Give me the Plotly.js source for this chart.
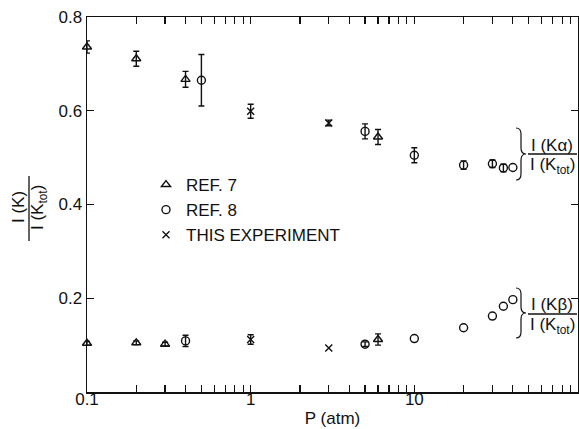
<!DOCTYPE html>
<html>
<head>
<meta charset="utf-8">
<script src="https://cdn.plot.ly/plotly-3.0.1.min.js"></script>
<style>html,body{margin:0;padding:0;background:#fff;}#chart{width:579px;height:429px;}</style>
</head>
<body>
<div id="chart"></div>
<script>
// ---- data ----
// REF. 7 (triangles)
var ref7KaP = [0.1, 0.2, 0.4, 6];
var ref7KaY = [0.736, 0.711, 0.667, 0.544];
var ref7KaE = [0.013, 0.016, 0.017, 0.016];
var ref7KbP = [0.1, 0.2, 0.3, 6];
var ref7KbY = [0.104, 0.105, 0.102, 0.112];
var ref7KbE = [0.004, 0.004, 0.004, 0.012];
// REF. 8 (circles)
var ref8KaP = [0.5, 5, 10, 20, 30, 35, 40];
var ref8KaY = [0.665, 0.556, 0.505, 0.484, 0.487, 0.478, 0.479];
var ref8KaE = [0.055, 0.016, 0.016, 0.009, 0.008, 0.008, null];
var ref8KbP = [0.4, 5, 10, 20, 30, 35, 40];
var ref8KbY = [0.109, 0.102, 0.114, 0.137, 0.162, 0.183, 0.197];
var ref8KbE = [0.012, 0.005, null, null, null, null, null];
// THIS EXPERIMENT (crosses)
var thisKaP = [1, 3];
var thisKaY = [0.599, 0.574];
var thisKaE = [0.015, 0.006];
var thisKbP = [1, 3];
var thisKbY = [0.112, 0.094];
var thisKbE = [0.010, null];

var legendNames = ['REF. 7', 'REF. 8', 'THIS EXPERIMENT'];
var xTickVals = [0.1,0.2,0.3,0.4,0.5,0.6,0.7,0.8,0.9,1,2,3,4,5,6,7,8,9,10,20,30,40,50,60,70,80,90,100];
var xTickLabels = {0.1:'0.1', 1:'1', 10:'10'};
var yTickVals = [0.2, 0.4, 0.6, 0.8];
var yTickText = ['0.2', '0.4', '0.6', '0.8'];

// ---- layout helpers (plot area in pixels: x 87..578, y 17..392) ----
var L = 87, R = 578, T = 17, B = 392;
function px(x){ return (x - L) / (R - L); }
function py(y){ return (B - y) / (B - T); }

var FONT = 'Liberation Sans, Arial, sans-serif';
var BLK = '#111';

// split a series into points with error bars and points without
function mk(p, y, e, sym, size, name, group, show){
  var out = [];
  var withE = {x: [], y: [], e: []}, noE = {x: [], y: []};
  for (var i = 0; i < p.length; i++){
    if (e[i] === null){ noE.x.push(p[i]); noE.y.push(y[i]); }
    else { withE.x.push(p[i]); withE.y.push(y[i]); withE.e.push(e[i]); }
  }
  var mkr = {symbol: sym, size: size, color: BLK, line: {color: BLK, width: 1.4}};
  if (withE.x.length) out.push({
    type: 'scatter', mode: 'markers', x: withE.x, y: withE.y, name: name,
    legendgroup: group, showlegend: show, cliponaxis: false, marker: mkr,
    error_y: {type: 'data', array: withE.e, visible: true, color: BLK, thickness: 1.4, width: 3}
  });
  if (noE.x.length) out.push({
    type: 'scatter', mode: 'markers', x: noE.x, y: noE.y, name: name,
    legendgroup: group, showlegend: false, cliponaxis: false, marker: mkr
  });
  return out;
}

var traces = [].concat(
  mk(ref7KaP, ref7KaY, ref7KaE, 'triangle-up-open', 8, legendNames[0], 'r7', true),
  mk(ref8KaP, ref8KaY, ref8KaE, 'circle-open', 8, legendNames[1], 'r8', true),
  mk(thisKaP, thisKaY, thisKaE, 'x-thin-open', 7, legendNames[2], 'th', true),
  mk(ref7KbP, ref7KbY, ref7KbE, 'triangle-up-open', 8, legendNames[0], 'r7', false),
  mk(ref8KbP, ref8KbY, ref8KbE, 'circle-open', 8, legendNames[1], 'r8', false),
  mk(thisKbP, thisKbY, thisKbE, 'x-thin-open', 7, legendNames[2], 'th', false)
);

function brace(x0, x1, y0, y1){
  var ym = (y0 + y1) / 2, xm = (x0 + x1) / 2;
  var pts = [
    ['M', x0, y0], ['Q', xm, y0, xm, y0 + 6], ['L', xm, ym - 6], ['Q', xm, ym, x1, ym],
    ['Q', xm, ym, xm, ym + 6], ['L', xm, y1 - 6], ['Q', xm, y1, x0, y1]
  ];
  var s = '';
  pts.forEach(function(p){
    s += p[0];
    for (var i = 1; i < p.length; i += 2) s += ' ' + px(p[i]).toFixed(5) + ',' + py(p[i+1]).toFixed(5);
    s += ' ';
  });
  return {type: 'path', xref: 'paper', yref: 'paper', path: s, line: {color: BLK, width: 1.2}};
}
function hline(x0, x1, y){
  return {type: 'line', xref: 'paper', yref: 'paper', x0: px(x0), x1: px(x1), y0: py(y), y1: py(y), line: {color: BLK, width: 1.3}};
}
function vline(x, y0, y1){
  return {type: 'line', xref: 'paper', yref: 'paper', x0: px(x), x1: px(x), y0: py(y0), y1: py(y1), line: {color: BLK, width: 1.3}};
}
function txt(t, x, y, size, angle){
  return {xref: 'paper', yref: 'paper', x: px(x), y: py(y), text: t, showarrow: false,
          xanchor: 'center', yanchor: 'middle', textangle: angle || 0,
          font: {family: FONT, size: size, color: BLK}};
}

var layout = {
  width: 579, height: 429,
  margin: {l: L, r: 579 - R, t: T, b: 429 - B, pad: 0},
  paper_bgcolor: '#fff', plot_bgcolor: '#fff',
  font: {family: FONT, size: 17, color: BLK},
  showlegend: true,
  legend: {x: px(146), y: py(167), xanchor: 'left', yanchor: 'top', bgcolor: 'rgba(0,0,0,0)',
           font: {family: FONT, size: 17, color: BLK}, itemsizing: 'trace', tracegroupgap: 0},
  xaxis: {
    type: 'log', range: [-1, 2], autorange: false,
    tickmode: 'array', tickvals: xTickVals,
    ticktext: xTickVals.map(function(v){ return xTickLabels[v] || ''; }),
    ticks: 'inside', ticklen: 7, tickwidth: 1.2, tickcolor: BLK,
    showline: true, linecolor: BLK, linewidth: 1.5, mirror: 'ticks',
    showgrid: false, zeroline: false,
    tickfont: {family: FONT, size: 17, color: BLK},
    ticklabelstandoff: -9,
    title: {text: 'P (atm)', font: {family: FONT, size: 17, color: BLK}, standoff: 4},
    automargin: false
  },
  yaxis: {
    range: [0, 0.8], autorange: false,
    tickmode: 'array', tickvals: yTickVals, ticktext: yTickText,
    ticks: 'inside', ticklen: 7, tickwidth: 1.2, tickcolor: BLK,
    showline: true, linecolor: BLK, linewidth: 1.5, mirror: 'ticks',
    showgrid: false, zeroline: false,
    tickfont: {family: FONT, size: 17, color: BLK},
    automargin: false
  },
  shapes: [
    vline(29, 176, 241),
    hline(528, 577, 154), brace(516, 526, 128, 180),
    hline(528, 577, 314), brace(516, 526, 288, 338)
  ],
  annotations: [
    txt('I (K)', 19, 207, 17, -90),
    txt('I (K<sub>tot</sub>)', 39, 208, 17, -90),
    txt('I (Kα)', 552, 145, 17),
    txt('I (K<sub>tot</sub>)', 552, 166, 17),
    txt('I (Kβ)', 552, 304, 17),
    txt('I (K<sub>tot</sub>)', 552, 326, 17)
  ]
};

Plotly.newPlot('chart', traces, layout, {displayModeBar: false, staticPlot: true});
</script>
</body>
</html>
